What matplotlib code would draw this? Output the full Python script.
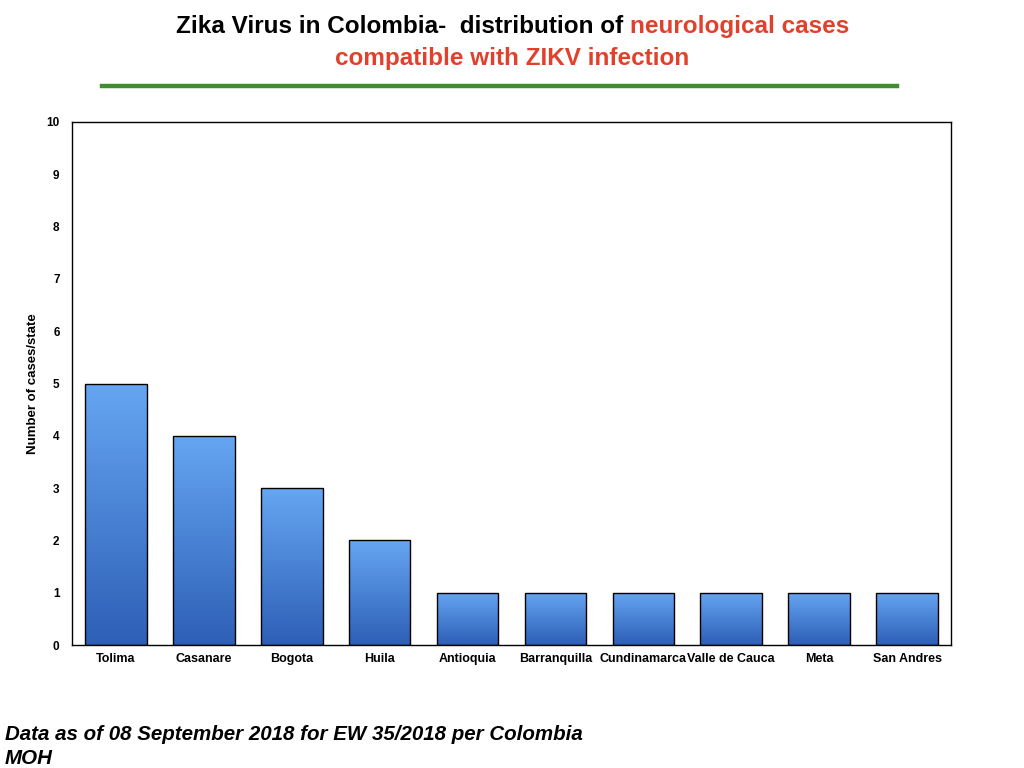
import numpy as np
import matplotlib.pyplot as plt
from matplotlib.colors import LinearSegmentedColormap

plt.rcParams['font.family'] = ['Liberation Sans', 'DejaVu Sans']

# data
states = ['Tolima', 'Casanare', 'Bogota', 'Huila', 'Antioquia', 'Barranquilla',
          'Cundinamarca', 'Valle de Cauca', 'Meta', 'San Andres']
cases = [5, 4, 3, 2, 1, 1, 1, 1, 1, 1]
y_ticks = list(range(0, 11))

fig = plt.figure(figsize=(10.24, 7.68), dpi=100)
ax = fig.add_axes([72 / 1024, 1 - 645 / 768, 879 / 1024, 523 / 768])

x = np.arange(len(states))
bars = ax.bar(x, cases, width=0.7, color='none', edgecolor='black', linewidth=1.0, zorder=3)

# gradient fill per bar (light top, dark bottom)
cmap = LinearSegmentedColormap.from_list('blu', ['#2D5FB6', '#66A6F2'])
grad = np.linspace(0, 1, 256).reshape(-1, 1)
for b in bars:
    x0, y0 = b.get_x(), b.get_y()
    w, h = b.get_width(), b.get_height()
    im = ax.imshow(grad, cmap=cmap, origin='lower', aspect='auto',
                   extent=[x0, x0 + w, y0, y0 + h], zorder=2)
    im.set_clip_path(b)

ax.set_xlim(-0.5, len(states) - 0.5)
ax.set_ylim(0, 10)
ax.set_yticks(y_ticks)
ax.set_xticks(x)
ax.set_xticklabels(states, fontsize=9, fontweight='bold')
ax.set_yticklabels([str(v) for v in y_ticks], fontsize=8.5, fontweight='bold')
ax.tick_params(length=0, pad=9)
ax.tick_params(axis='x', pad=6)
ax.set_ylabel('Number of cases/state', fontsize=9.5, fontweight='bold', labelpad=5)
for s in ax.spines.values():
    s.set_linewidth(1.0)

# title with mixed colours
fig.canvas.draw()
r = fig.canvas.get_renderer()
fs = 17.5
part1 = 'Zika Virus in Colombia-  distribution of '
part2 = 'neurological cases'
t1 = fig.text(0, 0, part1, fontsize=fs, fontweight='bold', color='black')
t2 = fig.text(0, 0, part2, fontsize=fs, fontweight='bold', color='#E0412C')
w1 = t1.get_window_extent(r).width
w2 = t2.get_window_extent(r).width
start = (1024 / 2 + 1 - (w1 + w2) / 2) / 1024
ytitle = 1 - 33 / 768
t1.set_position((start, ytitle))
t1.set_va('baseline')
t2.set_position((start + w1 / 1024, ytitle))
t2.set_va('baseline')
fig.text(512 / 1024, 1 - 65 / 768, 'compatible with ZIKV infection', fontsize=fs,
         fontweight='bold', color='#E0412C', ha='center', va='baseline')

# green rule
fig.add_artist(plt.Line2D([102 / 1024, 897 / 1024], [1 - 86 / 768, 1 - 86 / 768],
                          color='#3F8F2D', linewidth=3.2, transform=fig.transFigure))

fig.text(5 / 1024, 1 - 735 / 768, 'Data as of 08 September 2018 for EW 35/2018 per Colombia',
         fontsize=14.8, fontweight='bold', fontstyle='italic', va='center')
fig.text(5 / 1024, 1 - 758 / 768, 'MOH', fontsize=14.8, fontweight='bold',
         fontstyle='italic', va='center')

fig.savefig('out.png', dpi=100)
